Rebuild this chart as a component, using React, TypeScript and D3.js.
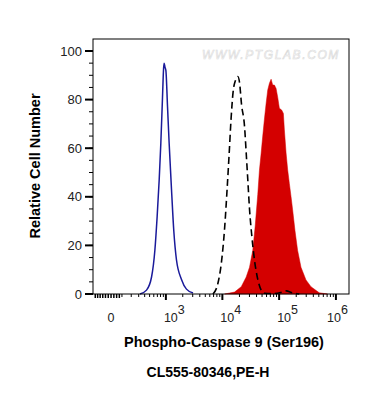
import * as d3 from "d3"

// fluorescence intensity (PE-H) vs relative cell number
const blueX = [320, 436, 545, 629, 694, 756, 810, 869, 910, 930, 960, 1000, 1071, 1145, 1262, 1386, 1548, 1900, 2326, 3040]
const blueY = [0, 1.6, 7, 18, 32, 47, 62, 81, 93, 95, 93.5, 92, 77, 62, 43, 26, 14, 6, 2, 0.4]

const dashX = [6830, 8350, 9590, 10950, 12110, 13120, 14230, 15430, 17080, 18730, 20060, 21760, 24570, 26300, 28050, 30070, 32980, 36770, 42050, 48230, 55080, 82560, 113900, 134100, 163900, 226500]
const dashY = [0, 4.4, 12.7, 27, 43, 57, 72, 83, 88, 89.5, 87, 78, 69, 58, 47, 35, 24, 14, 6, 1.6, 0.3, 0.2, 0.8, 1.3, 0.6, 0]

const redX = [10950, 16400, 21500, 26300, 30070, 34340, 37870, 42050, 45000, 48230, 51420, 55080, 59020, 62990, 67430, 72180, 77040, 82560, 88370, 94300, 100960, 110800, 118800, 123700, 132500, 141500, 151300, 162100, 173000, 190300, 211300, 242600, 297000, 363800, 508400, 711000]
const redY = [0, 0.8, 3, 7, 11, 18, 28, 41, 51, 58, 65, 72, 78.5, 84, 86.7, 88.4, 86, 86, 84.6, 81, 76.4, 75.7, 74.3, 67.5, 58, 51, 45.5, 40, 34.6, 26, 18, 11, 5.8, 3, 0.5, 0]

const yTicks = [0, 20, 40, 60, 80, 100]
const yMinor = d3.range(0, 105, 5)
const xDecades = [3, 4, 5, 6]
const xNearZero = [-150, -125, -100, -75, -50, -25, 0, 25, 50, 75]
const xMinor = [100, 200, 300, 400, 500, 600, 700, 800, 900]
  .concat(...[3, 4, 5].map((e) => d3.range(2, 10).map((m) => m * Math.pow(10, e))))

const W = 219
const toDec = (v: number) => Math.asinh(v / W) / Math.LN10

const left = 93, right = 349, top = 39, bottom = 294
const xs = d3.scaleLinear().domain([toDec(-175), toDec(1.7e6)]).range([left, right])
const x = (v: number) => xs(toDec(v))
const y = d3.scaleLinear().domain([0, 100]).range([bottom, 51])

const font = "'Liberation Sans', Arial, sans-serif"

export default function App() {
  const line = d3.line<[number, number]>().x((d) => x(d[0])).y((d) => y(d[1])).curve(d3.curveMonotoneX)
  const area = d3.area<[number, number]>().x((d) => x(d[0])).y0(y(0)).y1((d) => y(d[1]))
  const blue = blueX.map((v, i) => [v, blueY[i]] as [number, number])
  const dash = dashX.map((v, i) => [v, dashY[i]] as [number, number])
  const red = redX.map((v, i) => [v, redY[i]] as [number, number])

  return (
    <div style={{ position: "absolute", left: 0, top: 0 }}>
      <svg width={370} height={410} style={{ display: "block", background: "#fff" }}>
        <text x={202} y={59} fontFamily={font} fontSize={12} fontStyle="italic" fill="none"
          stroke="#dadada" strokeWidth={0.6} letterSpacing={1.6}>WWW.PTGLAB.COM</text>

        <path d={area(red)!} fill="#d40000" stroke="#d40000" strokeWidth={0.5} />
        <path d={line(dash)!} fill="none" stroke="#000" strokeWidth={1.6} strokeDasharray="7 4" />
        <path d={line(blue)!} fill="none" stroke="#1a1a9a" strokeWidth={1.5} />

        <rect x={left} y={top} width={right - left} height={bottom - top} fill="none" stroke="#000" strokeWidth={1} />

        {yMinor.map((t) => (
          <line key={"ym" + t} x1={left - 4} x2={left} y1={y(t)} y2={y(t)} stroke="#000" strokeWidth={1} />
        ))}
        {yTicks.map((t) => (
          <g key={"y" + t}>
            <line x1={left - 8} x2={left} y1={y(t)} y2={y(t)} stroke="#000" strokeWidth={2} />
            <text x={82} y={y(t) + 4.5} textAnchor="end" fontFamily={font} fontSize={13} fill="#222">{t}</text>
          </g>
        ))}

        {xNearZero.map((t) => (
          <line key={"xz" + t} x1={x(t)} x2={x(t)} y1={bottom} y2={bottom + 4} stroke="#000" strokeWidth={1.5} />
        ))}
        {xMinor.map((t) => (
          <line key={"xm" + t} x1={x(t)} x2={x(t)} y1={bottom} y2={bottom + 3} stroke="#000" strokeWidth={1} />
        ))}
        {xDecades.map((e) => (
          <line key={"xd" + e} x1={x(Math.pow(10, e))} x2={x(Math.pow(10, e))} y1={bottom} y2={bottom + 6} stroke="#000" strokeWidth={2} />
        ))}
        <text x={x(0)} y={322} textAnchor="middle" fontFamily={font} fontSize={12.5} fill="#222">0</text>
        {xDecades.map((e) => (
          <text key={"xl" + e} x={Math.min(x(Math.pow(10, e)) - 2, 327)} y={322} fontFamily={font} fontSize={12.5} fill="#222">
            10<tspan dy={-8}>{e}</tspan>
          </text>
        ))}

        <text x={224} y={347} textAnchor="middle" fontFamily={font} fontSize={14.5} fontWeight="bold" fill="#000">
          Phospho-Caspase 9 (Ser196)
        </text>
        <text x={208} y={377} textAnchor="middle" fontFamily={font} fontSize={14} fontWeight="bold" fill="#000">
          CL555-80346,PE-H
        </text>
        <text transform="translate(40,166) rotate(-90)" textAnchor="middle" fontFamily={font} fontSize={14.5} fontWeight="bold" fill="#000">
          Relative Cell Number
        </text>
      </svg>
    </div>
  )
}
